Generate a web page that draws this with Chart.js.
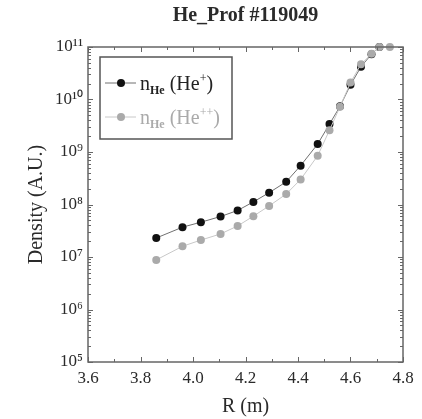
<!DOCTYPE html>
<html>
<head>
<meta charset="utf-8">
<script src="https://cdn.jsdelivr.net/npm/chart.js@4/dist/chart.umd.min.js"></script>
<style>
html,body{margin:0;padding:0;background:#fff;}
#wrap{width:422px;height:419px;}
</style>
</head>
<body>
<div id="wrap"><canvas id="c" width="422" height="419"></canvas></div>
<script>
const titleText = 'He_Prof #119049';
const xTitle = 'R (m)';
const yTitle = 'Density (A.U.)';
const xTicks = [3.6, 3.8, 4.0, 4.2, 4.4, 4.6, 4.8];
const yTickExps = [5, 6, 7, 8, 9, 10, 11];
const supDigits = {'0':'⁰','1':'¹','2':'²','3':'³','4':'⁴','5':'⁵','6':'⁶','7':'⁷','8':'⁸','9':'⁹'};

const rHe1 = [3.86, 3.96, 4.03, 4.105, 4.17, 4.23, 4.29, 4.355, 4.41, 4.475, 4.52, 4.56, 4.60, 4.64, 4.68, 4.71];
const nHe1 = [2.3e7, 3.7e7, 4.6e7, 5.9e7, 7.7e7, 1.12e8, 1.68e8, 2.7e8, 5.5e8, 1.42e9, 3.4e9, 7.4e9, 1.9e10, 4.2e10, 7.3e10, 1.0e11];
const rHe2 = [3.86, 3.96, 4.03, 4.105, 4.17, 4.23, 4.29, 4.355, 4.41, 4.475, 4.52, 4.56, 4.60, 4.64, 4.68, 4.71, 4.75];
const nHe2 = [8.8e6, 1.6e7, 2.1e7, 2.75e7, 3.9e7, 6.0e7, 9.4e7, 1.58e8, 3.0e8, 8.5e8, 2.6e9, 7.3e9, 2.1e10, 4.7e10, 7.4e10, 1.0e11, 1.0e11];

const SERIF = '"Liberation Serif", "Times New Roman", serif';
const AXIS_COLOR = '#666';
const TEXT_COLOR = '#2a2a2a';

function pts(xs, ys){ return xs.map((x,i)=>({x:x, y:ys[i]})); }

const framePlugin = {
  id: 'frame',
  afterDatasetsDraw(chart){
    const {ctx, chartArea: a, scales:{x, y}} = chart;
    ctx.save();
    ctx.strokeStyle = AXIS_COLOR;
    ctx.lineWidth = 1.5;
    ctx.strokeRect(a.left, a.top, a.right - a.left, a.bottom - a.top);
    ctx.lineWidth = 1;
    for (let k = 0; k <= 12; k++){
      const v = 3.6 + k*0.1;
      const px = Math.round(x.getPixelForValue(v)) + 0.5;
      const len = (k % 2 === 0) ? 5 : 3;
      ctx.beginPath();
      ctx.moveTo(px, a.bottom); ctx.lineTo(px, a.bottom - len);
      ctx.moveTo(px, a.top); ctx.lineTo(px, a.top + len);
      ctx.stroke();
    }
    for (let e = 5; e <= 11; e++){
      for (let m = 1; m <= 9; m++){
        if (e === 11 && m > 1) break;
        const v = m * Math.pow(10, e);
        const py = Math.round(y.getPixelForValue(v)) + 0.5;
        const len = (m === 1) ? 5 : 3;
        ctx.beginPath();
        ctx.moveTo(a.left, py); ctx.lineTo(a.left + len, py);
        ctx.moveTo(a.right, py); ctx.lineTo(a.right - len, py);
        ctx.stroke();
      }
    }
    ctx.restore();
  },
  afterDraw(chart){
    const {ctx, chartArea: a} = chart;
    ctx.save();
    // title centred over the plot area
    ctx.fillStyle = TEXT_COLOR;
    ctx.font = 'bold 20px ' + SERIF;
    ctx.textAlign = 'center';
    ctx.textBaseline = 'middle';
    ctx.fillText(titleText, (a.left + a.right) / 2, 16);
    // legend
    const bx = a.left + 12, by = a.top + 10, bw = 132, bh = 82;
    ctx.fillStyle = '#fff';
    ctx.fillRect(bx, by, bw, bh);
    ctx.strokeStyle = '#555';
    ctx.lineWidth = 1.5;
    ctx.strokeRect(bx, by, bw, bh);
    const entries = [
      {ds: chart.data.datasets[1], cy: by + 26, txt: '#222', sup: '+'},
      {ds: chart.data.datasets[0], cy: by + 60, txt: '#aaa', sup: '++'}
    ];
    entries.forEach(en => {
      ctx.strokeStyle = en.ds.borderColor;
      ctx.lineWidth = 1;
      ctx.beginPath();
      ctx.moveTo(bx + 5, en.cy); ctx.lineTo(bx + 36, en.cy);
      ctx.stroke();
      ctx.fillStyle = en.ds.pointBackgroundColor;
      ctx.beginPath();
      ctx.arc(bx + 21, en.cy, 4, 0, Math.PI*2);
      ctx.fill();
      let tx = bx + 40;
      const base = en.cy + 7;
      ctx.fillStyle = en.txt;
      ctx.textBaseline = 'alphabetic';
      ctx.textAlign = 'left';
      ctx.font = '20px ' + SERIF;
      ctx.fillText('n', tx, base); tx += ctx.measureText('n').width;
      ctx.font = 'bold 12px ' + SERIF;
      ctx.fillText('He', tx, base + 4); tx += ctx.measureText('He').width;
      ctx.font = '20px ' + SERIF;
      ctx.fillText(' (He', tx, base); tx += ctx.measureText(' (He').width;
      ctx.font = '12px ' + SERIF;
      ctx.fillText(en.sup, tx, base - 8); tx += ctx.measureText(en.sup).width;
      ctx.font = '20px ' + SERIF;
      ctx.fillText(')', tx, base);
    });
    ctx.restore();
  }
};

new Chart(document.getElementById('c'), {
  type: 'scatter',
  data: {
    datasets: [
      {
        label: 'n_He (He++)',
        data: pts(rHe2, nHe2),
        showLine: true,
        borderColor: '#c8c8c8',
        borderWidth: 1,
        pointBackgroundColor: '#aaaaaa',
        pointBorderColor: '#aaaaaa',
        pointRadius: 4,
        pointBorderWidth: 0,
        clip: false,
        order: 0
      },
      {
        label: 'n_He (He+)',
        data: pts(rHe1, nHe1),
        showLine: true,
        borderColor: '#707070',
        borderWidth: 1,
        pointBackgroundColor: '#111111',
        pointBorderColor: '#111111',
        pointRadius: 4,
        pointBorderWidth: 0,
        clip: false,
        order: 1
      }
    ]
  },
  plugins: [framePlugin],
  options: {
    responsive: false,
    animation: false,
    devicePixelRatio: 1,
    layout: { padding: { top: 47, right: 19, bottom: 0, left: 0 } },
    plugins: {
      legend: { display: false },
      tooltip: { enabled: false },
      title: { display: false }
    },
    scales: {
      x: {
        type: 'linear',
        min: 3.6, max: 4.8,
        afterBuildTicks(s){ s.ticks = xTicks.map(v => ({value: v})); },
        afterFit(s){ s.height = 57; },
        grid: { display: false, drawTicks: false },
        border: { display: false },
        ticks: {
          color: TEXT_COLOR,
          font: { family: SERIF, size: 17 },
          padding: 6,
          maxRotation: 0,
          autoSkip: false,
          callback: v => Number(v).toFixed(1)
        },
        title: {
          display: true, text: xTitle, color: TEXT_COLOR,
          font: { family: SERIF, size: 20 },
          padding: { top: 0, bottom: 0 }
        }
      },
      y: {
        type: 'logarithmic',
        min: 1e5, max: 1e11,
        afterBuildTicks(s){ s.ticks = yTickExps.map(e => ({value: Math.pow(10, e)})); },
        afterFit(s){ s.width = 88; },
        grid: { display: false, drawTicks: false },
        border: { display: false },
        ticks: {
          color: TEXT_COLOR,
          font: { family: SERIF, size: 17 },
          padding: 5,
          autoSkip: false,
          callback: v => {
            const e = Math.round(Math.log10(v));
            return '10' + String(e).split('').map(d => supDigits[d]).join('');
          }
        },
        title: {
          display: true, text: yTitle, color: TEXT_COLOR,
          font: { family: SERIF, size: 20 },
          padding: { top: 25, bottom: 0 }
        }
      }
    }
  }
});
</script>
</body>
</html>
